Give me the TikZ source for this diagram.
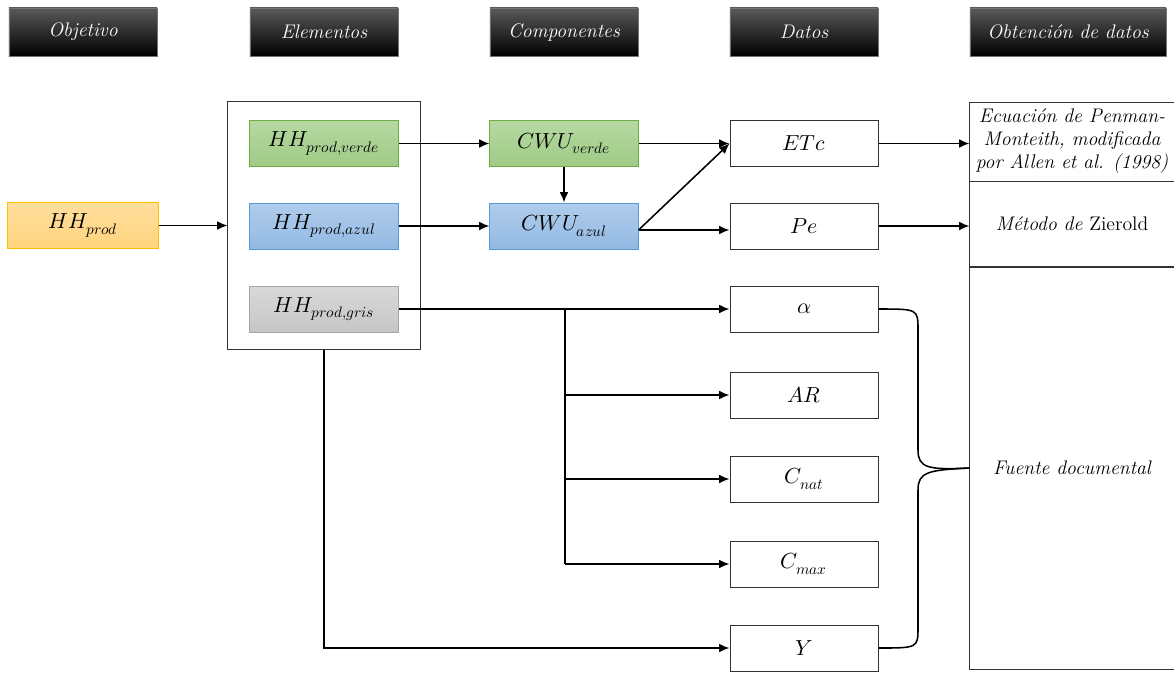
\documentclass[tikz,border=0pt]{standalone}
\usepackage{fontspec}
\usepackage{unicode-math}
\usetikzlibrary{positioning,arrows.meta}
\definecolor{naranjaA}{HTML}{FFDE9C}
\definecolor{naranjaB}{HTML}{FFD47E}
\definecolor{naranjaL}{HTML}{FFC000}
\definecolor{verdeA}{HTML}{B6D9A2}
\definecolor{verdeB}{HTML}{9ECB85}
\definecolor{verdeL}{HTML}{70AD47}
\definecolor{azulA}{HTML}{B0CDEC}
\definecolor{azulB}{HTML}{92B9E3}
\definecolor{azulL}{HTML}{5B9BD5}
\definecolor{grisA}{HTML}{D9D9D9}
\definecolor{grisB}{HTML}{C6C6C6}
\definecolor{grisL}{HTML}{A5A5A5}
\tikzset{
  titulo/.style={draw=black!55, top color=black!65, middle color=black, bottom color=black,
    minimum width=3.7cm, minimum height=1.2cm, text=white, font=\fontsize{14}{16}\selectfont\itshape},
  caja/.style={draw=black!80, line width=0.7pt, minimum width=3.7cm, minimum height=1.15cm,
    font=\fontsize{15.5}{17}\selectfont},
  celda/.style={draw=black!80, line width=0.7pt, minimum width=5.1cm, align=center,
    font=\fontsize{14}{16.3}\selectfont\itshape},
  flecha/.style={line width=1.1pt, -{Latex[length=2.6mm,width=2.2mm]}}
}
\begin{document}
\begin{tikzpicture}[x=0.025cm,y=-0.025cm]
\useasboundingbox (0,0) rectangle (1174,673);
% encabezados
\foreach \x/\t in {83/Objetivo, 324/Elementos, 564/Componentes, 804/Datos}
  \node[titulo] at (\x,32) {\t};
\node[titulo, minimum width=4.9cm] (obt) at (1068,32) {Obtenci\'on de datos};
% objetivo y elementos
\node[caja, draw=naranjaL, top color=naranjaA, bottom color=naranjaB, minimum width=3.75cm] (hhprod) at (83,225.5) {$HH_{prod}$};
\node[draw=black!80, line width=0.7pt, minimum width=4.8cm, minimum height=6.175cm] (elem) at (324,225.5) {};
\node[caja, draw=verdeL, top color=verdeA, bottom color=verdeB] (hhverde) at (324,143.5) {$HH_{prod,verde}$};
\node[caja, draw=azulL, top color=azulA, bottom color=azulB] (hhazul) at (324,226) {$HH_{prod,azul}$};
\node[caja, draw=grisL, top color=grisA, bottom color=grisB] (hhgris) at (324,309) {$HH_{prod,gris}$};
% componentes
\node[caja, draw=verdeL, top color=verdeA, bottom color=verdeB] (cwuverde) at (564,143.5) {$CWU_{verde}$};
\node[caja, draw=azulL, top color=azulA, bottom color=azulB] (cwuazul) at (564,226) {$CWU_{azul}$};
% datos
\node[caja] (etc) at (804,143.5) {$ETc$};
\node[caja] (pe) at (804,226) {$Pe$};
\node[caja] (alfa) at (804,309) {$\alpha$};
\node[caja] (ar) at (804,395) {$AR$};
\node[caja] (cnat) at (804,479) {$C_{nat}$};
\node[caja] (cmax) at (804,564) {$C_{max}$};
\node[caja] (y) at (804,648) {$Y$};
% obtencion de datos
\node[celda, minimum height=1.975cm] (penman) at (1072,141.5) {Ecuaci\'on de Penman-\\Monteith, modificada\\por Allen et al. (1998)};
\node[celda, minimum height=2.15cm] (zierold) at (1072,224) {M\'etodo de \upshape Zierold};
\node[celda, minimum height=10.05cm] (fuente) at (1072,468) {Fuente documental};
% conectores
\draw[flecha] (hhprod) -- (elem);
\draw[flecha] (hhverde) -- (cwuverde);
\draw[flecha] (hhazul) -- (cwuazul);
\draw[flecha] (cwuverde) -- (cwuazul);
\draw[flecha] (cwuverde) -- (etc);
\draw[flecha] ([yshift=-0.1cm]cwuazul.east) -- (etc.west);
\draw[flecha] ([yshift=-0.1cm]cwuazul.east) -- ([yshift=-0.1cm]pe.west);
\coordinate (rama) at (565,309);
\draw[flecha] (hhgris) -- (alfa);
\draw[line width=1.1pt] (rama) -- (rama |- cmax);
\foreach \n in {ar,cnat,cmax}
  \draw[flecha] (rama |- \n) -- (\n.west);
\draw[flecha] (elem.south) |- (y.west);
\draw[flecha] (etc.east) -- (etc.east -| penman.west);
\draw[flecha] (pe.east) -- (pe.east -| zierold.west);
% llave
\coordinate (punta) at (fuente.west);
\draw[line width=1.1pt] (alfa.east) .. controls (918,309) .. (918,330) -- (918,450)
  .. controls (918,468) and (928,470) .. (punta);
\draw[line width=1.1pt] (y.east) .. controls (918,648) .. (918,627) -- (918,490)
  .. controls (918,472) and (928,470) .. (punta);
\end{tikzpicture}
\end{document}
